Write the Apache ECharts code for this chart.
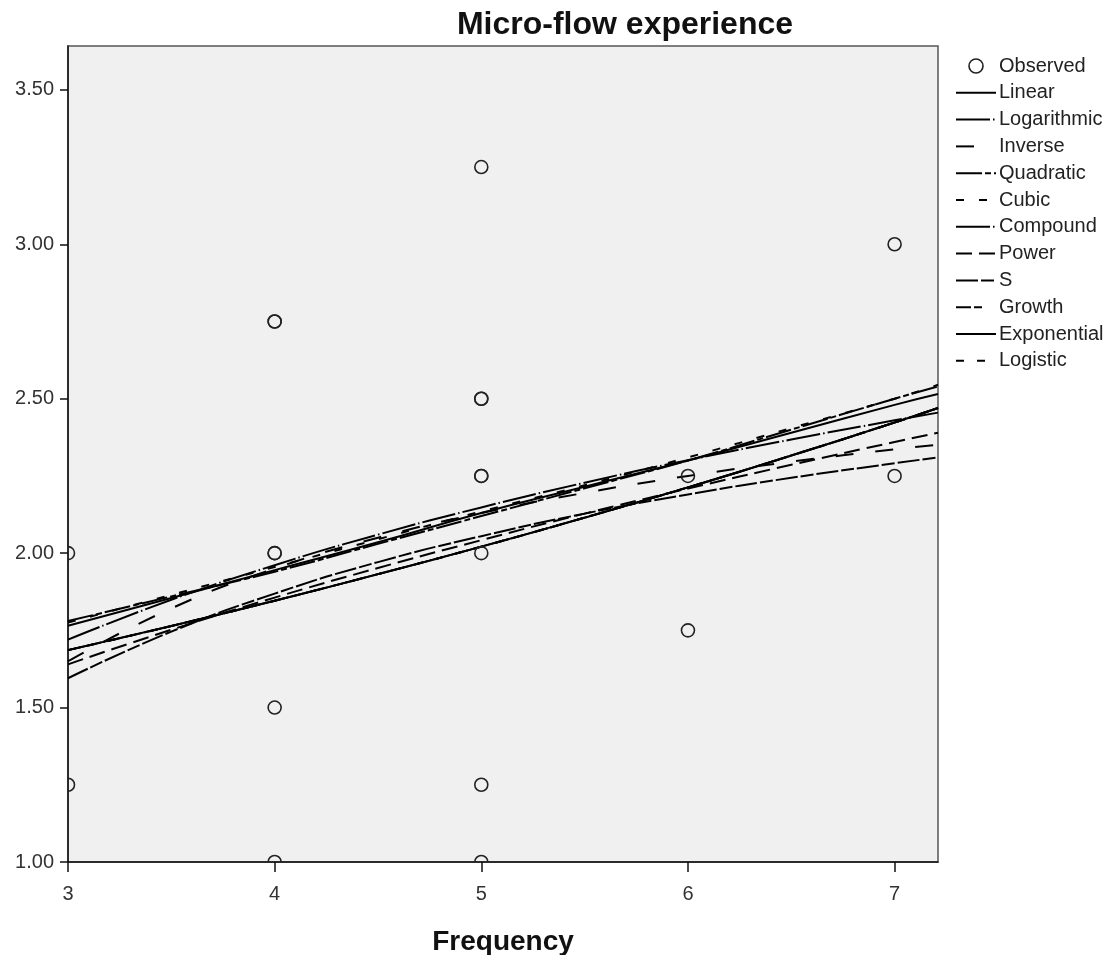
<!DOCTYPE html>
<html>
<head>
<meta charset="utf-8">
<title>Micro-flow experience</title>
<script src="https://cdn.jsdelivr.net/npm/echarts@6/dist/echarts.min.js"></script>
<style>
  html, body { margin: 0; padding: 0; background: #fff; }
  #chart { width: 1118px; height: 955px; }
</style>
</head>
<body>
<div id="chart"></div>
<script>
// observed points (duplicates drawn twice, they look heavier in the picture)
var obsX = [3, 3, 4, 4, 4, 4, 4, 4, 5, 5, 5, 5, 5, 5, 5, 5, 6, 6, 7, 7];
var obsY = [2.00, 1.25, 2.75, 2.75, 2.00, 2.00, 1.50, 1.00, 3.25, 2.50, 2.50, 2.25, 2.25, 2.00, 1.25, 1.00, 2.25, 1.75, 3.00, 2.25];

// fitted curves, read along the frequency axis
var fitX = [3, 3.5, 4, 4.5, 5, 5.5, 6, 6.5, 7, 7.21];
var linear      = [1.765, 1.855, 1.945, 2.035, 2.130, 2.215, 2.300, 2.390, 2.480, 2.515];
var logarithmic = [1.720, 1.849, 1.961, 2.060, 2.148, 2.228, 2.301, 2.368, 2.430, 2.455];
var inverse     = [1.650, 1.821, 1.950, 2.050, 2.130, 2.195, 2.250, 2.296, 2.336, 2.351];
var quadratic   = [1.780, 1.860, 1.940, 2.030, 2.120, 2.210, 2.300, 2.400, 2.500, 2.540];
var cubic       = [1.775, 1.865, 1.955, 2.045, 2.135, 2.220, 2.310, 2.405, 2.500, 2.545];
var compound    = [1.686, 1.764, 1.846, 1.932, 2.021, 2.115, 2.213, 2.316, 2.423, 2.470];
var power       = [1.640, 1.752, 1.856, 1.952, 2.042, 2.128, 2.209, 2.286, 2.360, 2.390];
var sCurve      = [1.595, 1.746, 1.869, 1.971, 2.055, 2.128, 2.190, 2.244, 2.291, 2.310];
var growth      = [1.686, 1.764, 1.846, 1.932, 2.021, 2.115, 2.213, 2.316, 2.423, 2.470];
var exponential = [1.686, 1.764, 1.846, 1.932, 2.021, 2.115, 2.213, 2.316, 2.423, 2.470];
var logistic    = [1.686, 1.764, 1.846, 1.932, 2.021, 2.115, 2.213, 2.316, 2.423, 2.470];

var yTicks = [1.00, 1.50, 2.00, 2.50, 3.00, 3.50];

var chart = echarts.init(document.getElementById('chart'));

function pairs(xs, ys) {
    return xs.map(function (x, i) { return [x, ys[i]]; });
}

function fitLine(name, values, dash) {
    return {
        name: name,
        type: 'line',
        data: pairs(fitX, values),
        symbol: 'none',
        smooth: true,
        z: 3,
        itemStyle: { color: '#000', opacity: 0 },
        lineStyle: { color: '#000', width: 2, type: dash }
    };
}

var font = '"Liberation Sans", Arial, sans-serif';

var option = {
    animation: false,
    backgroundColor: '#fff',
    graphic: [{
        type: 'text',
        x: 625,
        y: 25,
        style: {
            text: 'Micro-flow experience',
            font: 'bold 32px ' + font,
            fill: '#111',
            textAlign: 'center',
            textVerticalAlign: 'middle'
        }
    }],
    legend: {
        orient: 'vertical',
        left: 950,
        top: 51,
        itemWidth: 40,
        itemHeight: 14,
        itemGap: 6.8,
        selectedMode: false,
        itemStyle: { opacity: 0 },
        textStyle: { fontFamily: font, fontSize: 20, color: '#222', padding: [0, 0, 0, -2] },
        data: [
            { name: 'Observed', icon: 'circle', itemStyle: { color: 'rgba(0,0,0,0)', borderColor: '#222', borderWidth: 1.6, opacity: 1 } },
            'Linear', 'Logarithmic', 'Inverse', 'Quadratic', 'Cubic', 'Compound',
            'Power', 'S', 'Growth', 'Exponential', 'Logistic'
        ]
    },
    grid: {
        left: 68,
        top: 46,
        right: 180,
        bottom: 93,
        outerBoundsMode: 'none',
        show: true,
        backgroundColor: '#f0f0f0',
        borderColor: '#555',
        borderWidth: 1.5
    },
    xAxis: {
        type: 'value',
        min: 3,
        max: 7.21,
        interval: 1,
        name: 'Frequency',
        nameLocation: 'middle',
        nameGap: 66,
        nameTextStyle: { fontFamily: font, fontSize: 28, fontWeight: 'bold', color: '#111' },
        axisLine: { lineStyle: { color: '#111', width: 1.5 } },
        axisTick: { length: 10, lineStyle: { color: '#111', width: 1.5 } },
        axisLabel: { fontFamily: font, fontSize: 20, color: '#333', margin: 22, showMaxLabel: false },
        splitLine: { show: false }
    },
    yAxis: {
        type: 'value',
        min: 1,
        max: 3.642,
        interval: 0.5,
        axisLine: { show: true, lineStyle: { color: '#111', width: 1.5 } },
        axisTick: { show: true, length: 8, lineStyle: { color: '#111', width: 1.5 } },
        axisLabel: {
            fontFamily: font, fontSize: 20, color: '#333', margin: 14, showMaxLabel: false,
            formatter: function (v) {
                return yTicks.indexOf(v) >= 0 ? v.toFixed(2) : '';
            }
        },
        splitLine: { show: false }
    },
    series: [
        {
            name: 'Observed',
            type: 'custom',
            clip: true,
            z: 5,
            data: pairs(obsX, obsY),
            encode: { x: 0, y: 1 },
            renderItem: function (params, api) {
                var p = api.coord([api.value(0), api.value(1)]);
                return {
                    type: 'circle',
                    shape: { cx: p[0], cy: p[1], r: 6.5 },
                    style: { fill: 'none', stroke: '#222', lineWidth: 1.6 }
                };
            }
        },
        fitLine('Linear', linear, 'solid'),
        fitLine('Logarithmic', logarithmic, [34, 3, 1.5, 3]),
        fitLine('Inverse', inverse, [18, 22]),
        fitLine('Quadratic', quadratic, [26, 3, 6, 3]),
        fitLine('Cubic', cubic, [8, 15]),
        fitLine('Compound', compound, [34, 3, 1.5, 3]),
        fitLine('Power', power, [16, 7]),
        fitLine('S', sCurve, [22, 3, 13, 3]),
        fitLine('Growth', growth, [15, 3, 8, 14]),
        fitLine('Exponential', exponential, 'solid'),
        fitLine('Logistic', logistic, [8, 13])
    ]
};

chart.setOption(option);
</script>
</body>
</html>
